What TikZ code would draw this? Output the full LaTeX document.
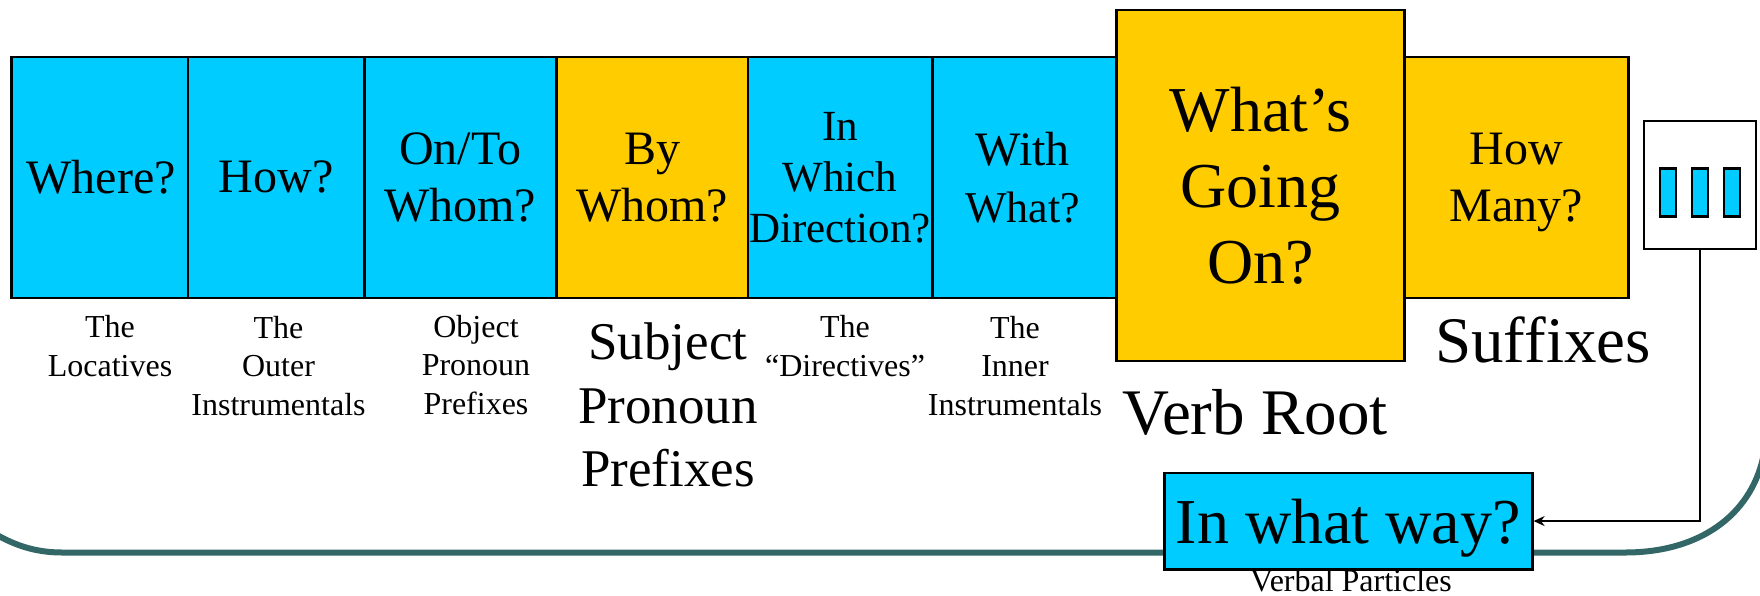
\documentclass[tikz,border=0pt]{standalone}
\usepackage{fontspec}
\setmainfont{Liberation Serif}
\usetikzlibrary{arrows.meta}
\definecolor{qblue}{HTML}{00CCFF}
\definecolor{qgold}{HTML}{FFCC00}
\definecolor{qteal}{HTML}{336666}
\tikzset{
  qbox/.style={draw=black,line width=2.6pt,inner sep=0pt,align=center,anchor=north west},
  blueq/.style={qbox,fill=qblue},
  goldq/.style={qbox,fill=qgold},
  fs48/.style={font=\fontsize{48}{57}\selectfont},
  fs43/.style={font=\fontsize{43}{51}\selectfont},
  fs64/.style={font=\fontsize{64}{76}\selectfont},
  lab32/.style={inner sep=0pt,align=center,font=\fontsize{32}{38.5}\selectfont},
  lab53/.style={inner sep=0pt,align=center,font=\fontsize{53}{63.5}\selectfont},
  lab65/.style={inner sep=0pt,align=center,font=\fontsize{65}{75}\selectfont},
  bar/.style={draw=black,line width=2.6pt,fill=qblue,inner sep=0pt,minimum width=16pt,minimum height=48pt},
  link/.style={draw=black,line width=2.4pt},
  swoosh/.style={draw=qteal,line width=6pt}
}
\begin{document}
\begin{tikzpicture}[x=1pt,y=-1pt]
\useasboundingbox (0,0) rectangle (1760,595);
\clip (0,0) rectangle (1760,595);
\fill[white] (0,0) rectangle (1760,595);
% background swoosh
\draw[swoosh] (-3,535) .. controls (15,545) and (35,552.5) .. (62,552.5) -- (1625,552.5)
   .. controls (1700,552.5) and (1750,515) .. (1763,458);
% slots
\node[blueq,fs48,minimum width=176.5pt,minimum height=241pt] (where) at (10,55.5) {\hspace*{3pt}Where?};
\node[blueq,fs48,minimum width=176.5pt,minimum height=241pt] (how) at (186.5,55.5) {How?};
\node[blueq,fs48,minimum width=192pt,minimum height=241pt] (onto) at (363,55.5) {On/To\\Whom?};
\node[goldq,fs48,minimum width=191.5pt,minimum height=241pt] (bywhom) at (555,55.5) {By\\Whom?};
\node[blueq,fs43,minimum width=184.5pt,minimum height=241pt] (dir) at (746.5,55.5) {In\\Which\\Direction?};
\node[blueq,fs48,minimum width=184pt,minimum height=241pt] (with) at (931,55.5) {With\hspace*{3pt}\\{\fontsize{44}{57}\selectfont What?}\hspace*{3pt}};
\node[goldq,fs64,minimum width=288pt,minimum height=351pt,yshift=-2pt] (root) at (1115,6.5) {What’s\\Going\\On?};
\node[goldq,fs48,text depth=0pt,minimum width=224pt,minimum height=241pt] (many) at (1403,55.5) {How\\Many?};
% labels
\node[lab32] (l1) at (110,346) {The\\Locatives};
\node[lab32] (l2) at (278.5,366) {The\\Outer\\Instrumentals};
\node[lab32] (l3) at (476,365) {Object\\Pronoun\\Prefixes};
\node[lab53] (l4) at (668,405) {Subject\\Pronoun\\Prefixes};
\node[lab32] (l5) at (845,346) {The\\“Directives”};
\node[lab32] (l6) at (1015,366) {The\\Inner\\Instrumentals};
\node[lab65] (l7) at (1255,412) {Verb Root};
\node[lab65] (l8) at (1543,340) {Suffixes};
% particles
\node[draw=black,line width=2.6pt,fill=white,inner sep=0pt,minimum width=112pt,minimum height=128pt] (slot) at (1700,185) {};
\node[bar] (b1) at (1668,192.5) {};
\node[bar] (b2) at (1700,192.5) {};
\node[bar] (b3) at (1732,192.5) {};
\node[blueq,fs64,text depth=0pt,minimum width=368pt,minimum height=96.5pt] (way) at (1163,471.5) {In what way?};
\node[lab32] (l9) at (1351,581) {Verbal Particles};
\draw[link,-{Stealth[length=11pt,width=10pt]}] (slot.south) |- (way.east);
\end{tikzpicture}
\end{document}
